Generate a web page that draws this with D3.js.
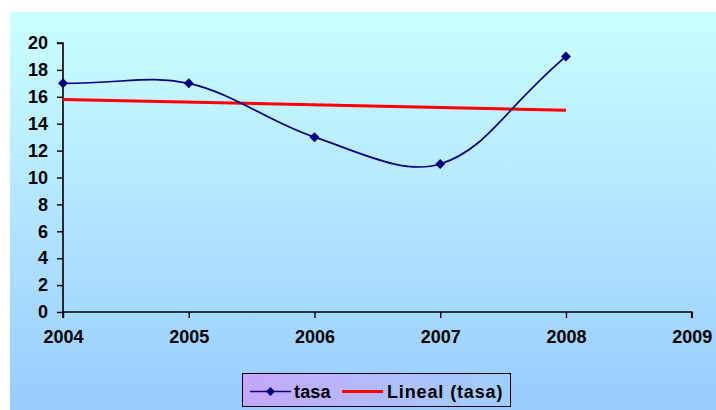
<!DOCTYPE html>
<html>
<head>
<meta charset="utf-8">
<script src="https://cdn.jsdelivr.net/npm/d3@7"></script>
<style>
  html, body { margin: 0; padding: 0; background: #fff; }
  svg { display: block; }
  text { font-family: "Liberation Sans", Arial, sans-serif; font-weight: bold; fill: #000; }
</style>
</head>
<body>
<svg id="chart" width="716" height="410"></svg>
<script>
// Series data
const years = [2004, 2005, 2006, 2007, 2008];
const tasa = [17, 17, 13, 11, 19];
const yTicks = [0, 2, 4, 6, 8, 10, 12, 14, 16, 18, 20];
const xTicks = [2004, 2005, 2006, 2007, 2008, 2009];
const seriesNames = ["tasa", "Lineal (tasa)"];

// Least-squares trend over the series
const n = years.length;
const mx = d3.mean(years), my = d3.mean(tasa);
const slope = d3.sum(years, (x, i) => (x - mx) * (tasa[i] - my)) / d3.sum(years, x => (x - mx) ** 2);
const intercept = my - slope * mx;
const trend = [years[0], years[n - 1]].map(x => ({ x, y: intercept + slope * x }));

// Smoothing curve: cubic Bezier segments whose tangents are weighted by the
// neighbouring chord lengths (spreadsheet-style smoothed line).
function smoothCurve(context) {
  let pts = [];
  return {
    areaStart() {}, areaEnd() {},
    lineStart() { pts = []; },
    point(x, y) { pts.push([x, y]); },
    lineEnd() {
      const m = pts.length;
      if (!m) return;
      context.moveTo(pts[0][0], pts[0][1]);
      const dist = (a, b) => Math.hypot(b[0] - a[0], b[1] - a[1]);
      for (let i = 0; i < m - 1; i++) {
        const p1 = pts[i], p2 = pts[i + 1];
        const d12 = dist(p1, p2);
        let c1, c2;
        if (i === 0) {
          c1 = [p1[0] + (p2[0] - p1[0]) * 0.5, p1[1] + (p2[1] - p1[1]) * 0.5];
        } else {
          const p0 = pts[i - 1], w = d12 / (dist(p0, p1) + d12) / 3;
          c1 = [p1[0] + (p2[0] - p0[0]) * w, p1[1] + (p2[1] - p0[1]) * w];
        }
        if (i === m - 2) {
          c2 = [p2[0] - (p2[0] - p1[0]) * 0.5, p2[1] - (p2[1] - p1[1]) * 0.5];
        } else {
          const p3 = pts[i + 2], w = d12 / (d12 + dist(p2, p3)) / 3;
          c2 = [p2[0] - (p3[0] - p1[0]) * w, p2[1] - (p3[1] - p1[1]) * w];
        }
        context.bezierCurveTo(c1[0], c1[1], c2[0], c2[1], p2[0], p2[1]);
      }
    }
  };
}

const svg = d3.select("#chart");
const defs = svg.append("defs");

const bg = defs.append("linearGradient").attr("id", "bg").attr("x1", 0).attr("y1", 0).attr("x2", 0).attr("y2", 1);
bg.append("stop").attr("offset", "0%").attr("stop-color", "#ccffff");
bg.append("stop").attr("offset", "100%").attr("stop-color", "#99ccff");

const lg = defs.append("linearGradient").attr("id", "lg").attr("x1", 0).attr("y1", 0).attr("x2", 1).attr("y2", 0);
lg.append("stop").attr("offset", "0%").attr("stop-color", "#c6a6fb");
lg.append("stop").attr("offset", "100%").attr("stop-color", "#9fd0ff");

// Chart area
svg.append("rect").attr("x", 10).attr("y", 12).attr("width", 706).attr("height", 398).attr("fill", "url(#bg)");

const x = d3.scaleLinear().domain([2004, 2009]).range([63, 691.7]);
const y = d3.scaleLinear().domain([0, 20]).range([312, 43]);

// Axes
const yAxis = svg.append("g").attr("transform", `translate(${x(2004)},0)`)
  .call(d3.axisLeft(y).tickValues(yTicks).tickSize(6).tickPadding(9).tickFormat(d3.format("d")));
const xAxis = svg.append("g").attr("transform", `translate(0,${y(0)})`)
  .call(d3.axisBottom(x).tickValues(xTicks).tickSize(6).tickPadding(12).tickFormat(d3.format("d")));
[yAxis, xAxis].forEach(g => {
  g.select(".domain").attr("stroke", "#000").attr("stroke-width", 1.6);
  g.selectAll(".tick line").attr("stroke", "#000").attr("stroke-width", 1.4);
  g.selectAll(".tick text").attr("font-size", 18).attr("font-family", "Liberation Sans, Arial, sans-serif").attr("font-weight", "bold");
});
yAxis.select(".domain").attr("d", `M-6,${y(20)}H0V${y(0)}`);
xAxis.select(".domain").attr("d", `M${x(2004)},6V0H${x(2009)}V6`);

// Trend line
svg.append("path")
  .datum(trend)
  .attr("fill", "none").attr("stroke", "#ff0000").attr("stroke-width", 3)
  .attr("d", d3.line().x(d => x(d.x)).y(d => y(d.y)));

// Smoothed series
const pts = years.map((yr, i) => ({ x: yr, y: tasa[i] }));
svg.append("path")
  .datum(pts)
  .attr("fill", "none").attr("stroke", "#000080").attr("stroke-width", 1.7)
  .attr("d", d3.line().x(d => x(d.x)).y(d => y(d.y)).curve(smoothCurve));

svg.selectAll(".mk").data(pts).join("path")
  .attr("class", "mk")
  .attr("transform", d => `translate(${x(d.x)},${y(d.y)}) rotate(45)`)
  .attr("d", d3.symbol().type(d3.symbolSquare).size(50))
  .attr("fill", "#000080");

// Legend
const leg = svg.append("g");
leg.append("rect").attr("x", 242.5).attr("y", 373.5).attr("width", 268).attr("height", 33)
  .attr("fill", "url(#lg)").attr("stroke", "#000").attr("stroke-width", 1);
leg.append("line").attr("x1", 250).attr("x2", 291).attr("y1", 391.5).attr("y2", 391.5)
  .attr("stroke", "#000080").attr("stroke-width", 1.6);
leg.append("path").attr("transform", "translate(270.5,391.5) rotate(45)")
  .attr("d", d3.symbol().type(d3.symbolSquare).size(40)).attr("fill", "#000080");
leg.append("text").attr("x", 294).attr("y", 398).attr("font-size", 18)
  .attr("textLength", 36.5).attr("lengthAdjust", "spacing").text(seriesNames[0]);
leg.append("line").attr("x1", 342).attr("x2", 383).attr("y1", 391.5).attr("y2", 391.5)
  .attr("stroke", "#ff0000").attr("stroke-width", 3);
leg.append("text").attr("x", 387).attr("y", 398).attr("font-size", 18)
  .attr("textLength", 115.5).attr("lengthAdjust", "spacing").text(seriesNames[1]);
</script>
</body>
</html>
